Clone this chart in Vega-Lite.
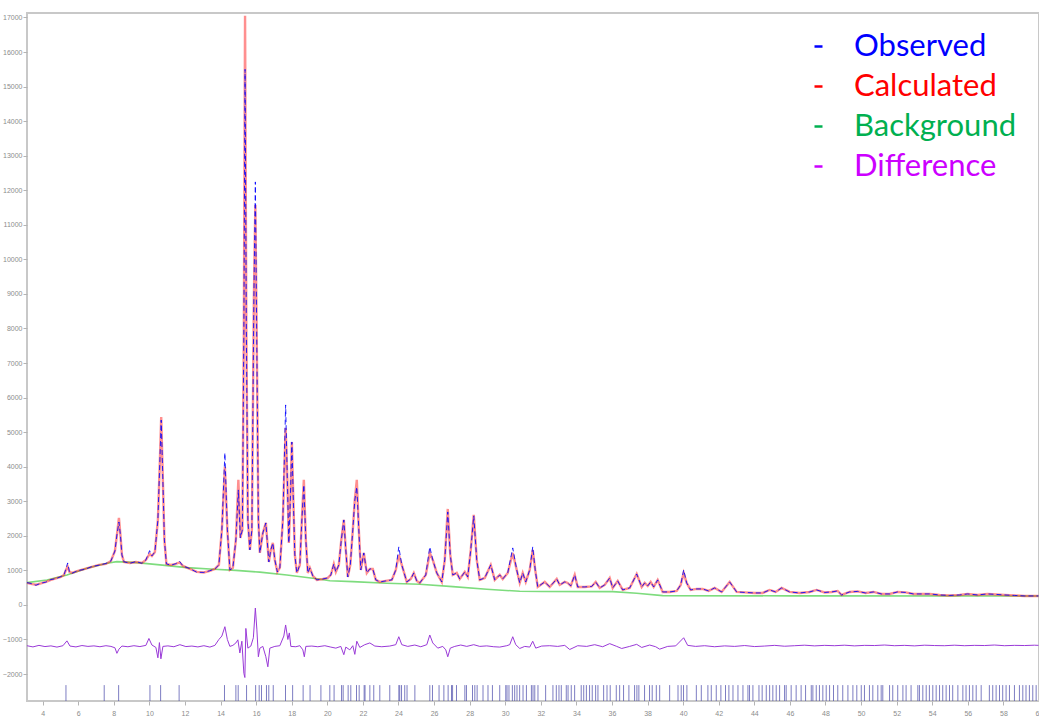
{
  "$schema": "https://vega.github.io/schema/vega-lite/v6.json",
  "width": 1012,
  "height": 688,
  "autosize": {"type": "none"},
  "padding": {"left": 27, "top": 13, "right": 0, "bottom": 18},
  "background": "white",
  "config": {
    "view": {"stroke": "#c8c8c8", "strokeWidth": 2},
    "axis": {"labelFont": "Liberation Sans", "labelFontSize": 7, "labelColor": "#8c8c8c", "tickColor": "#b4b4b4", "tickSize": 4, "domain": false, "grid": false, "title": null, "labelPadding": 1, "labelOverlap": false, "labelSeparation": 0}
  },
  "datasets": {
    "pattern": [
      {"x": 3.118, "obs": 645, "calc": 640},
      {"x": 3.343, "obs": 620, "calc": 608},
      {"x": 3.624, "obs": 570, "calc": 585},
      {"x": 3.904, "obs": 630, "calc": 622},
      {"x": 4.185, "obs": 660, "calc": 670},
      {"x": 4.466, "obs": 735, "calc": 724},
      {"x": 4.747, "obs": 760, "calc": 767},
      {"x": 5.028, "obs": 820, "calc": 810},
      {"x": 5.197, "obs": 868, "calc": 868},
      {"x": 5.309, "obs": 1042, "calc": 1010},
      {"x": 5.404, "obs": 1215, "calc": 1110},
      {"x": 5.506, "obs": 955, "calc": 960},
      {"x": 5.646, "obs": 915, "calc": 926},
      {"x": 5.983, "obs": 995, "calc": 984},
      {"x": 6.376, "obs": 1030, "calc": 1042},
      {"x": 6.770, "obs": 1110, "calc": 1100},
      {"x": 7.163, "obs": 1150, "calc": 1158},
      {"x": 7.556, "obs": 1200, "calc": 1187},
      {"x": 7.837, "obs": 1273, "calc": 1273},
      {"x": 8.062, "obs": 1563, "calc": 1563},
      {"x": 8.174, "obs": 2026, "calc": 2026},
      {"x": 8.287, "obs": 2400, "calc": 2518},
      {"x": 8.371, "obs": 2026, "calc": 2026},
      {"x": 8.455, "obs": 1447, "calc": 1447},
      {"x": 8.567, "obs": 1250, "calc": 1244},
      {"x": 8.904, "obs": 1205, "calc": 1215},
      {"x": 9.241, "obs": 1255, "calc": 1244},
      {"x": 9.578, "obs": 1205, "calc": 1215},
      {"x": 9.803, "obs": 1302, "calc": 1302},
      {"x": 10.011, "obs": 1571, "calc": 1480},
      {"x": 10.140, "obs": 1418, "calc": 1418},
      {"x": 10.309, "obs": 1534, "calc": 1534},
      {"x": 10.477, "obs": 2460, "calc": 2460},
      {"x": 10.590, "obs": 4196, "calc": 4196},
      {"x": 10.663, "obs": 5350, "calc": 5441},
      {"x": 10.742, "obs": 3907, "calc": 3907},
      {"x": 10.843, "obs": 1881, "calc": 1881},
      {"x": 10.955, "obs": 1187, "calc": 1187},
      {"x": 11.208, "obs": 1150, "calc": 1158},
      {"x": 11.489, "obs": 1195, "calc": 1187},
      {"x": 11.697, "obs": 1259, "calc": 1230},
      {"x": 11.882, "obs": 1129, "calc": 1129},
      {"x": 12.275, "obs": 1050, "calc": 1042},
      {"x": 12.668, "obs": 945, "calc": 955},
      {"x": 13.062, "obs": 941, "calc": 941},
      {"x": 13.399, "obs": 990, "calc": 984},
      {"x": 13.680, "obs": 1042, "calc": 1042},
      {"x": 13.905, "obs": 1158, "calc": 1158},
      {"x": 14.073, "obs": 2171, "calc": 2171},
      {"x": 14.242, "obs": 4399, "calc": 3994},
      {"x": 14.382, "obs": 2171, "calc": 2171},
      {"x": 14.523, "obs": 1013, "calc": 1013},
      {"x": 14.691, "obs": 1071, "calc": 1071},
      {"x": 14.860, "obs": 1881, "calc": 1881},
      {"x": 15.000, "obs": 3328, "calc": 3618},
      {"x": 15.113, "obs": 1939, "calc": 1939},
      {"x": 15.225, "obs": 2171, "calc": 2171},
      {"x": 15.309, "obs": 7959, "calc": 7959},
      {"x": 15.376, "obs": 15500, "calc": 17050},
      {"x": 15.449, "obs": 7959, "calc": 7959},
      {"x": 15.534, "obs": 2460, "calc": 2460},
      {"x": 15.646, "obs": 1592, "calc": 1592},
      {"x": 15.759, "obs": 2171, "calc": 2171},
      {"x": 15.871, "obs": 8827, "calc": 8827},
      {"x": 15.955, "obs": 12242, "calc": 11576},
      {"x": 16.039, "obs": 7380, "calc": 7380},
      {"x": 16.124, "obs": 2460, "calc": 2460},
      {"x": 16.208, "obs": 1505, "calc": 1505},
      {"x": 16.376, "obs": 2084, "calc": 2084},
      {"x": 16.545, "obs": 2373, "calc": 2373},
      {"x": 16.713, "obs": 1244, "calc": 1244},
      {"x": 16.825, "obs": 1592, "calc": 1592},
      {"x": 16.938, "obs": 1794, "calc": 1794},
      {"x": 17.051, "obs": 1302, "calc": 1302},
      {"x": 17.191, "obs": 955, "calc": 955},
      {"x": 17.331, "obs": 1071, "calc": 1071},
      {"x": 17.500, "obs": 2460, "calc": 2460},
      {"x": 17.657, "obs": 5788, "calc": 5122},
      {"x": 17.753, "obs": 3618, "calc": 3618},
      {"x": 17.837, "obs": 1794, "calc": 1794},
      {"x": 17.921, "obs": 3039, "calc": 3039},
      {"x": 18.006, "obs": 4717, "calc": 4717},
      {"x": 18.090, "obs": 3039, "calc": 3039},
      {"x": 18.174, "obs": 1447, "calc": 1447},
      {"x": 18.287, "obs": 926, "calc": 926},
      {"x": 18.455, "obs": 1158, "calc": 1158},
      {"x": 18.568, "obs": 2460, "calc": 2460},
      {"x": 18.680, "obs": 3473, "calc": 3618},
      {"x": 18.792, "obs": 1881, "calc": 1881},
      {"x": 18.904, "obs": 926, "calc": 926},
      {"x": 19.017, "obs": 1071, "calc": 1071},
      {"x": 19.186, "obs": 839, "calc": 839},
      {"x": 19.410, "obs": 724, "calc": 724},
      {"x": 19.747, "obs": 752, "calc": 752},
      {"x": 20.028, "obs": 781, "calc": 781},
      {"x": 20.197, "obs": 868, "calc": 868},
      {"x": 20.365, "obs": 1187, "calc": 1187},
      {"x": 20.478, "obs": 955, "calc": 955},
      {"x": 20.646, "obs": 1158, "calc": 1158},
      {"x": 20.786, "obs": 1881, "calc": 1881},
      {"x": 20.927, "obs": 2460, "calc": 2460},
      {"x": 21.039, "obs": 1592, "calc": 1592},
      {"x": 21.151, "obs": 810, "calc": 810},
      {"x": 21.292, "obs": 1158, "calc": 1158},
      {"x": 21.432, "obs": 2171, "calc": 2171},
      {"x": 21.545, "obs": 3039, "calc": 3039},
      {"x": 21.657, "obs": 3415, "calc": 3618},
      {"x": 21.770, "obs": 2171, "calc": 2171},
      {"x": 21.882, "obs": 1013, "calc": 1013},
      {"x": 22.050, "obs": 1505, "calc": 1505},
      {"x": 22.219, "obs": 926, "calc": 926},
      {"x": 22.388, "obs": 1042, "calc": 1042},
      {"x": 22.556, "obs": 1042, "calc": 1042},
      {"x": 22.725, "obs": 724, "calc": 724},
      {"x": 22.949, "obs": 666, "calc": 666},
      {"x": 23.286, "obs": 695, "calc": 695},
      {"x": 23.624, "obs": 724, "calc": 724},
      {"x": 23.848, "obs": 1013, "calc": 1013},
      {"x": 24.017, "obs": 1679, "calc": 1447},
      {"x": 24.185, "obs": 1158, "calc": 1158},
      {"x": 24.466, "obs": 666, "calc": 666},
      {"x": 24.691, "obs": 752, "calc": 752},
      {"x": 24.860, "obs": 926, "calc": 926},
      {"x": 25.028, "obs": 695, "calc": 695},
      {"x": 25.197, "obs": 637, "calc": 637},
      {"x": 25.534, "obs": 868, "calc": 868},
      {"x": 25.759, "obs": 1679, "calc": 1505},
      {"x": 25.927, "obs": 1302, "calc": 1302},
      {"x": 26.152, "obs": 926, "calc": 926},
      {"x": 26.433, "obs": 666, "calc": 666},
      {"x": 26.601, "obs": 1302, "calc": 1302},
      {"x": 26.770, "obs": 2691, "calc": 2778},
      {"x": 26.910, "obs": 1447, "calc": 1447},
      {"x": 27.051, "obs": 868, "calc": 868},
      {"x": 27.276, "obs": 926, "calc": 926},
      {"x": 27.444, "obs": 752, "calc": 752},
      {"x": 27.725, "obs": 955, "calc": 955},
      {"x": 27.893, "obs": 810, "calc": 810},
      {"x": 28.062, "obs": 1592, "calc": 1592},
      {"x": 28.230, "obs": 2576, "calc": 2605},
      {"x": 28.399, "obs": 1302, "calc": 1302},
      {"x": 28.567, "obs": 724, "calc": 724},
      {"x": 28.848, "obs": 781, "calc": 781},
      {"x": 29.185, "obs": 1158, "calc": 1158},
      {"x": 29.410, "obs": 724, "calc": 724},
      {"x": 29.691, "obs": 868, "calc": 868},
      {"x": 29.859, "obs": 752, "calc": 752},
      {"x": 30.140, "obs": 926, "calc": 926},
      {"x": 30.421, "obs": 1650, "calc": 1505},
      {"x": 30.646, "obs": 1013, "calc": 1013},
      {"x": 30.815, "obs": 637, "calc": 637},
      {"x": 30.983, "obs": 926, "calc": 926},
      {"x": 31.152, "obs": 666, "calc": 666},
      {"x": 31.376, "obs": 1013, "calc": 1013},
      {"x": 31.545, "obs": 1679, "calc": 1592},
      {"x": 31.685, "obs": 1013, "calc": 1013},
      {"x": 31.826, "obs": 521, "calc": 521},
      {"x": 32.219, "obs": 666, "calc": 666},
      {"x": 32.500, "obs": 521, "calc": 521},
      {"x": 32.893, "obs": 752, "calc": 752},
      {"x": 33.062, "obs": 579, "calc": 579},
      {"x": 33.343, "obs": 666, "calc": 666},
      {"x": 33.511, "obs": 637, "calc": 637},
      {"x": 33.680, "obs": 550, "calc": 550},
      {"x": 33.905, "obs": 868, "calc": 868},
      {"x": 34.073, "obs": 521, "calc": 521},
      {"x": 34.466, "obs": 521, "calc": 521},
      {"x": 34.859, "obs": 535, "calc": 535},
      {"x": 35.084, "obs": 666, "calc": 666},
      {"x": 35.309, "obs": 492, "calc": 492},
      {"x": 35.590, "obs": 579, "calc": 579},
      {"x": 35.871, "obs": 781, "calc": 781},
      {"x": 36.040, "obs": 492, "calc": 492},
      {"x": 36.320, "obs": 695, "calc": 695},
      {"x": 36.601, "obs": 434, "calc": 434},
      {"x": 36.994, "obs": 492, "calc": 492},
      {"x": 37.388, "obs": 897, "calc": 897},
      {"x": 37.670, "obs": 521, "calc": 521},
      {"x": 37.838, "obs": 637, "calc": 637},
      {"x": 38.007, "obs": 550, "calc": 550},
      {"x": 38.174, "obs": 666, "calc": 666},
      {"x": 38.343, "obs": 521, "calc": 521},
      {"x": 38.568, "obs": 724, "calc": 724},
      {"x": 38.849, "obs": 376, "calc": 376},
      {"x": 39.242, "obs": 376, "calc": 376},
      {"x": 39.636, "obs": 405, "calc": 405},
      {"x": 39.861, "obs": 579, "calc": 579},
      {"x": 40.029, "obs": 1013, "calc": 926},
      {"x": 40.197, "obs": 637, "calc": 637},
      {"x": 40.420, "obs": 434, "calc": 434},
      {"x": 40.758, "obs": 463, "calc": 463},
      {"x": 41.094, "obs": 463, "calc": 463},
      {"x": 41.432, "obs": 405, "calc": 405},
      {"x": 41.770, "obs": 492, "calc": 492},
      {"x": 42.163, "obs": 376, "calc": 376},
      {"x": 42.612, "obs": 666, "calc": 666},
      {"x": 43.006, "obs": 376, "calc": 376},
      {"x": 43.455, "obs": 362, "calc": 362},
      {"x": 44.017, "obs": 347, "calc": 347},
      {"x": 44.466, "obs": 347, "calc": 347},
      {"x": 44.860, "obs": 434, "calc": 434},
      {"x": 45.196, "obs": 376, "calc": 376},
      {"x": 45.534, "obs": 492, "calc": 492},
      {"x": 45.983, "obs": 376, "calc": 376},
      {"x": 46.545, "obs": 347, "calc": 347},
      {"x": 47.107, "obs": 376, "calc": 376},
      {"x": 47.500, "obs": 434, "calc": 434},
      {"x": 47.950, "obs": 362, "calc": 362},
      {"x": 48.343, "obs": 376, "calc": 376},
      {"x": 48.680, "obs": 405, "calc": 405},
      {"x": 48.905, "obs": 289, "calc": 289},
      {"x": 49.354, "obs": 376, "calc": 376},
      {"x": 49.806, "obs": 391, "calc": 391},
      {"x": 50.250, "obs": 347, "calc": 347},
      {"x": 50.700, "obs": 376, "calc": 376},
      {"x": 51.150, "obs": 318, "calc": 318},
      {"x": 51.600, "obs": 318, "calc": 318},
      {"x": 52.050, "obs": 376, "calc": 376},
      {"x": 52.500, "obs": 362, "calc": 362},
      {"x": 52.950, "obs": 318, "calc": 318},
      {"x": 53.398, "obs": 318, "calc": 318},
      {"x": 53.850, "obs": 318, "calc": 318},
      {"x": 54.410, "obs": 289, "calc": 289},
      {"x": 54.972, "obs": 275, "calc": 275},
      {"x": 55.534, "obs": 289, "calc": 289},
      {"x": 55.983, "obs": 318, "calc": 318},
      {"x": 56.545, "obs": 289, "calc": 289},
      {"x": 57.107, "obs": 318, "calc": 318},
      {"x": 57.613, "obs": 304, "calc": 304},
      {"x": 58.062, "obs": 289, "calc": 289},
      {"x": 58.624, "obs": 275, "calc": 275},
      {"x": 59.186, "obs": 260, "calc": 260},
      {"x": 59.747, "obs": 260, "calc": 260},
      {"x": 59.970, "obs": 260, "calc": 260}
    ],
    "background": [
      {"x": 3.118, "bg": 645},
      {"x": 4.241, "bg": 724},
      {"x": 5.365, "bg": 868},
      {"x": 6.489, "bg": 1062},
      {"x": 7.612, "bg": 1206},
      {"x": 8.174, "bg": 1254},
      {"x": 9.297, "bg": 1225},
      {"x": 10.590, "bg": 1158},
      {"x": 12.107, "bg": 1080},
      {"x": 13.624, "bg": 1032},
      {"x": 14.860, "bg": 1000},
      {"x": 16.207, "bg": 950},
      {"x": 17.724, "bg": 868},
      {"x": 19.410, "bg": 760},
      {"x": 20.140, "bg": 700},
      {"x": 21.432, "bg": 675},
      {"x": 23.342, "bg": 627},
      {"x": 25.197, "bg": 598},
      {"x": 27.051, "bg": 530},
      {"x": 28.960, "bg": 453},
      {"x": 30.815, "bg": 395},
      {"x": 32.050, "bg": 390},
      {"x": 36.040, "bg": 386},
      {"x": 37.388, "bg": 338},
      {"x": 38.849, "bg": 270},
      {"x": 46.000, "bg": 262},
      {"x": 59.970, "bg": 258}
    ],
    "difference": [
      {"x": 3.118, "diff": -1180}, {"x": 3.455, "diff": -1215}, {"x": 3.792, "diff": -1170}, {"x": 4.129, "diff": -1205},
      {"x": 4.466, "diff": -1185}, {"x": 4.803, "diff": -1220}, {"x": 5.140, "diff": -1180}, {"x": 5.365, "diff": -1040},
      {"x": 5.534, "diff": -1190}, {"x": 5.871, "diff": -1215}, {"x": 6.208, "diff": -1175}, {"x": 6.545, "diff": -1200},
      {"x": 6.882, "diff": -1185}, {"x": 7.219, "diff": -1210}, {"x": 7.556, "diff": -1180}, {"x": 7.837, "diff": -1200},
      {"x": 8.062, "diff": -1240}, {"x": 8.174, "diff": -1400}, {"x": 8.287, "diff": -1280}, {"x": 8.455, "diff": -1190},
      {"x": 8.792, "diff": -1210}, {"x": 9.129, "diff": -1180}, {"x": 9.466, "diff": -1205}, {"x": 9.803, "diff": -1170},
      {"x": 9.972, "diff": -970}, {"x": 10.140, "diff": -1160}, {"x": 10.365, "diff": -1230}, {"x": 10.477, "diff": -1530},
      {"x": 10.562, "diff": -1090}, {"x": 10.646, "diff": -1560}, {"x": 10.759, "diff": -1200}, {"x": 11.039, "diff": -1185},
      {"x": 11.376, "diff": -1210}, {"x": 11.713, "diff": -1150}, {"x": 12.050, "diff": -1205}, {"x": 12.388, "diff": -1190},
      {"x": 12.725, "diff": -1215}, {"x": 13.062, "diff": -1180}, {"x": 13.399, "diff": -1220}, {"x": 13.680, "diff": -1170},
      {"x": 13.905, "diff": -1000}, {"x": 14.073, "diff": -900}, {"x": 14.242, "diff": -630}, {"x": 14.382, "diff": -1000},
      {"x": 14.523, "diff": -1200}, {"x": 14.691, "diff": -1170}, {"x": 14.860, "diff": -1100}, {"x": 14.972, "diff": -1010},
      {"x": 15.084, "diff": -1390}, {"x": 15.197, "diff": -1050}, {"x": 15.309, "diff": -1980}, {"x": 15.365, "diff": -2100},
      {"x": 15.421, "diff": -680}, {"x": 15.534, "diff": -1250}, {"x": 15.702, "diff": -1190}, {"x": 15.843, "diff": -950},
      {"x": 15.955, "diff": -90}, {"x": 16.039, "diff": -700}, {"x": 16.124, "diff": -1500}, {"x": 16.208, "diff": -1250},
      {"x": 16.376, "diff": -1200}, {"x": 16.545, "diff": -1500}, {"x": 16.657, "diff": -1790}, {"x": 16.769, "diff": -1250},
      {"x": 17.051, "diff": -1200}, {"x": 17.331, "diff": -1180}, {"x": 17.556, "diff": -900}, {"x": 17.657, "diff": -580},
      {"x": 17.781, "diff": -1000}, {"x": 17.865, "diff": -810}, {"x": 17.949, "diff": -1200}, {"x": 18.230, "diff": -1210},
      {"x": 18.455, "diff": -1180}, {"x": 18.624, "diff": -1300}, {"x": 18.708, "diff": -1500}, {"x": 18.792, "diff": -1200},
      {"x": 19.129, "diff": -1190}, {"x": 19.466, "diff": -1210}, {"x": 19.860, "diff": -1180}, {"x": 20.197, "diff": -1220},
      {"x": 20.478, "diff": -1250}, {"x": 20.758, "diff": -1200}, {"x": 20.927, "diff": -1440}, {"x": 21.039, "diff": -1220},
      {"x": 21.264, "diff": -1300}, {"x": 21.432, "diff": -1180}, {"x": 21.545, "diff": -1430}, {"x": 21.657, "diff": -1050},
      {"x": 21.826, "diff": -1230}, {"x": 22.106, "diff": -1150}, {"x": 22.388, "diff": -1100}, {"x": 22.669, "diff": -1190},
      {"x": 23.062, "diff": -1210}, {"x": 23.511, "diff": -1190}, {"x": 23.848, "diff": -1150}, {"x": 24.017, "diff": -920},
      {"x": 24.185, "diff": -1150}, {"x": 24.522, "diff": -1200}, {"x": 24.916, "diff": -1160}, {"x": 25.253, "diff": -1210},
      {"x": 25.590, "diff": -1150}, {"x": 25.759, "diff": -870}, {"x": 25.927, "diff": -1100}, {"x": 26.208, "diff": -1250},
      {"x": 26.489, "diff": -1200}, {"x": 26.657, "diff": -1300}, {"x": 26.770, "diff": -1500}, {"x": 26.910, "diff": -1250},
      {"x": 27.163, "diff": -1200}, {"x": 27.500, "diff": -1160}, {"x": 27.837, "diff": -1200}, {"x": 28.230, "diff": -1150},
      {"x": 28.567, "diff": -1200}, {"x": 28.960, "diff": -1185}, {"x": 29.354, "diff": -1210}, {"x": 29.691, "diff": -1220},
      {"x": 30.084, "diff": -1180}, {"x": 30.253, "diff": -1150}, {"x": 30.421, "diff": -920}, {"x": 30.590, "diff": -1150},
      {"x": 30.815, "diff": -1260}, {"x": 31.095, "diff": -1200}, {"x": 31.376, "diff": -1220}, {"x": 31.545, "diff": -1050},
      {"x": 31.713, "diff": -1250}, {"x": 32.050, "diff": -1190}, {"x": 32.500, "diff": -1180}, {"x": 32.949, "diff": -1200},
      {"x": 33.343, "diff": -1170}, {"x": 33.624, "diff": -1290}, {"x": 34.073, "diff": -1180}, {"x": 34.579, "diff": -1200},
      {"x": 35.028, "diff": -1150}, {"x": 35.477, "diff": -1210}, {"x": 35.871, "diff": -1120}, {"x": 36.265, "diff": -1200},
      {"x": 36.545, "diff": -1260}, {"x": 36.994, "diff": -1200}, {"x": 37.388, "diff": -1140}, {"x": 37.670, "diff": -1230},
      {"x": 38.118, "diff": -1160}, {"x": 38.455, "diff": -1210}, {"x": 38.680, "diff": -1280}, {"x": 39.130, "diff": -1200},
      {"x": 39.580, "diff": -1185}, {"x": 40.029, "diff": -950}, {"x": 40.254, "diff": -1170}, {"x": 40.702, "diff": -1200},
      {"x": 41.207, "diff": -1180}, {"x": 41.770, "diff": -1210}, {"x": 42.332, "diff": -1185}, {"x": 42.894, "diff": -1200},
      {"x": 43.455, "diff": -1175}, {"x": 44.017, "diff": -1205}, {"x": 44.579, "diff": -1190}, {"x": 45.141, "diff": -1170},
      {"x": 45.703, "diff": -1195}, {"x": 46.264, "diff": -1180}, {"x": 46.826, "diff": -1165}, {"x": 47.388, "diff": -1185},
      {"x": 47.950, "diff": -1170}, {"x": 48.512, "diff": -1180}, {"x": 49.073, "diff": -1165}, {"x": 49.635, "diff": -1185},
      {"x": 50.197, "diff": -1170}, {"x": 50.759, "diff": -1175}, {"x": 51.320, "diff": -1160}, {"x": 51.882, "diff": -1180},
      {"x": 52.444, "diff": -1170}, {"x": 53.006, "diff": -1185}, {"x": 53.568, "diff": -1165}, {"x": 54.129, "diff": -1175},
      {"x": 54.691, "diff": -1180}, {"x": 55.253, "diff": -1165}, {"x": 55.815, "diff": -1180}, {"x": 56.376, "diff": -1170},
      {"x": 56.938, "diff": -1175}, {"x": 57.500, "diff": -1160}, {"x": 58.062, "diff": -1180}, {"x": 58.624, "diff": -1170},
      {"x": 59.186, "diff": -1175}, {"x": 59.747, "diff": -1165}, {"x": 59.970, "diff": -1170}
    ],
    "reflections": [
      {"x": 5.31}, {"x": 7.46}, {"x": 8.27}, {"x": 10.03}, {"x": 10.63}, {"x": 11.67}, {"x": 14.22}, {"x": 14.86},
      {"x": 14.99}, {"x": 15.46}, {"x": 15.97}, {"x": 16.17}, {"x": 16.30}, {"x": 16.58}, {"x": 16.71}, {"x": 16.96},
      {"x": 17.65}, {"x": 18.05}, {"x": 18.64}, {"x": 19.03}, {"x": 19.64}, {"x": 20.14}, {"x": 20.38}, {"x": 20.80},
      {"x": 20.89}, {"x": 21.17}, {"x": 21.32}, {"x": 21.64}, {"x": 21.79}, {"x": 22.07}, {"x": 22.12}, {"x": 22.39},
      {"x": 22.61}, {"x": 22.95}, {"x": 23.51}, {"x": 24.02}, {"x": 24.07}, {"x": 24.17}, {"x": 24.35}, {"x": 24.48},
      {"x": 24.92}, {"x": 25.76}, {"x": 25.91}, {"x": 26.28}, {"x": 26.55}, {"x": 26.79}, {"x": 26.98}, {"x": 27.04},
      {"x": 27.26}, {"x": 27.73}, {"x": 27.82}, {"x": 28.16}, {"x": 28.29}, {"x": 28.42}, {"x": 28.75}, {"x": 29.03},
      {"x": 29.28}, {"x": 29.69}, {"x": 30.03}, {"x": 30.10}, {"x": 30.21}, {"x": 30.40}, {"x": 30.53}, {"x": 30.66},
      {"x": 30.81}, {"x": 31.00}, {"x": 31.19}, {"x": 31.47}, {"x": 31.56}, {"x": 31.66}, {"x": 31.84},
      {"x": 32.27}, {"x": 32.68}, {"x": 32.87}, {"x": 33.02}, {"x": 33.15}, {"x": 33.43}, {"x": 33.53}, {"x": 33.71},
      {"x": 33.90}, {"x": 34.27}, {"x": 34.41}, {"x": 34.56}, {"x": 34.74}, {"x": 34.89}, {"x": 35.08}, {"x": 35.21},
      {"x": 35.53}, {"x": 35.72}, {"x": 35.90}, {"x": 36.24}, {"x": 36.43}, {"x": 36.65}, {"x": 36.95}, {"x": 37.27},
      {"x": 37.40}, {"x": 37.51}, {"x": 37.83}, {"x": 38.11}, {"x": 38.26}, {"x": 38.49}, {"x": 38.68}, {"x": 39.24},
      {"x": 39.71}, {"x": 39.89}, {"x": 40.02}, {"x": 40.21}, {"x": 40.74}, {"x": 41.02}, {"x": 41.39}, {"x": 41.58},
      {"x": 41.86}, {"x": 42.12}, {"x": 42.38}, {"x": 42.57}, {"x": 42.80}, {"x": 43.08}, {"x": 43.36}, {"x": 43.64},
      {"x": 43.73}, {"x": 43.92}, {"x": 44.26}, {"x": 44.44}, {"x": 44.67}, {"x": 44.86}, {"x": 45.04}, {"x": 45.23},
      {"x": 45.42}, {"x": 45.70}, {"x": 45.79}, {"x": 46.07}, {"x": 46.35}, {"x": 46.63}, {"x": 46.88}, {"x": 47.20},
      {"x": 47.29}, {"x": 47.48}, {"x": 47.66}, {"x": 47.85}, {"x": 48.04}, {"x": 48.23}, {"x": 48.45}, {"x": 48.69},
      {"x": 48.97}, {"x": 49.26}, {"x": 49.54}, {"x": 49.76}, {"x": 50.01}, {"x": 50.19}, {"x": 50.47}, {"x": 50.66},
      {"x": 50.94}, {"x": 51.13}, {"x": 51.22}, {"x": 51.60}, {"x": 51.78}, {"x": 52.06}, {"x": 52.35}, {"x": 52.53},
      {"x": 52.81}, {"x": 53.19}, {"x": 53.28}, {"x": 53.47}, {"x": 53.66}, {"x": 53.84}, {"x": 54.03}, {"x": 54.22},
      {"x": 54.41}, {"x": 54.59}, {"x": 54.78}, {"x": 54.97}, {"x": 55.15}, {"x": 55.44}, {"x": 55.72}, {"x": 55.90},
      {"x": 56.09}, {"x": 56.28}, {"x": 56.47}, {"x": 56.75}, {"x": 57.21}, {"x": 57.40}, {"x": 57.59}, {"x": 57.78},
      {"x": 57.96}, {"x": 58.15}, {"x": 58.34}, {"x": 58.62}, {"x": 58.90}, {"x": 59.09}, {"x": 59.27}, {"x": 59.46},
      {"x": 59.65}, {"x": 59.84}
    ]
  },
  "encoding": {
    "x": {"field": "x", "type": "quantitative", "scale": {"domain": [3.12, 60], "nice": false, "zero": false},
          "axis": {"values": [4, 6, 8, 10, 12, 14, 16, 18, 20, 22, 24, 26, 28, 30, 32, 34, 36, 38, 40, 42, 44, 46, 48, 50, 52, 54, 56, 58, 60], "labelPadding": 4, "labelOverlap": false, "labelSeparation": 0, "labelFlush": false, "labelBound": false}}
  },
  "layer": [
    {
      "data": {"name": "background"},
      "mark": {"type": "line", "color": "#7edc7e", "strokeWidth": 1.6},
      "encoding": {
        "y": {"field": "bg", "type": "quantitative", "scale": {"domain": [-2780, 17130], "nice": false, "zero": false},
              "axis": {"values": [-2000, -1000, 0, 1000, 2000, 3000, 4000, 5000, 6000, 7000, 8000, 9000, 10000, 11000, 12000, 13000, 14000, 15000, 16000, 17000], "format": "d", "labelOverlap": false, "labelSeparation": 0, "labelFlush": false, "labelBound": false}}
      }
    },
    {
      "data": {"name": "pattern"},
      "mark": {"type": "line", "color": "#ff2020", "strokeWidth": 2.4, "opacity": 0.5},
      "encoding": {
        "y": {"field": "calc", "type": "quantitative", "scale": {"domain": [-2780, 17130], "nice": false, "zero": false},
              "axis": {"values": [-2000, -1000, 0, 1000, 2000, 3000, 4000, 5000, 6000, 7000, 8000, 9000, 10000, 11000, 12000, 13000, 14000, 15000, 16000, 17000], "format": "d", "labelOverlap": false, "labelSeparation": 0, "labelFlush": false, "labelBound": false}}
      }
    },
    {
      "data": {"name": "pattern"},
      "mark": {"type": "line", "strokeWidth": 1, "opacity": 0.85, "strokeDash": [5, 3]},
      "encoding": {
        "y": {"field": "obs", "type": "quantitative", "scale": {"domain": [-2780, 17130], "nice": false, "zero": false},
              "axis": {"values": [-2000, -1000, 0, 1000, 2000, 3000, 4000, 5000, 6000, 7000, 8000, 9000, 10000, 11000, 12000, 13000, 14000, 15000, 16000, 17000], "format": "d", "labelOverlap": false, "labelSeparation": 0, "labelFlush": false, "labelBound": false}},
        "color": {
          "datum": "Observed",
          "scale": {"domain": ["Observed", "Calculated", "Background", "Difference"], "range": ["#0000ff", "#ff0000", "#00b050", "#cc00ff"]},
          "legend": {
            "title": null, "orient": "none", "legendX": 776, "legendY": 18, "padding": 0,
            "labelFont": "Lato", "labelFontSize": 31, "labelOffset": 20, "rowPadding": 8, "labelLimit": 0,
            "symbolType": "M-1,0L1,0", "symbolSize": 64, "symbolStrokeWidth": 2.5, "symbolOpacity": 1, "symbolDash": [],
            "encode": {"labels": {"update": {"fill": {"scale": "color", "field": "value"}}}}
          }
        }
      }
    },
    {
      "data": {"name": "difference"},
      "mark": {"type": "line", "color": "#9a3ad8", "strokeWidth": 1},
      "encoding": {
        "y": {"field": "diff", "type": "quantitative", "scale": {"domain": [-2780, 17130], "nice": false, "zero": false},
              "axis": {"values": [-2000, -1000, 0, 1000, 2000, 3000, 4000, 5000, 6000, 7000, 8000, 9000, 10000, 11000, 12000, 13000, 14000, 15000, 16000, 17000], "format": "d", "labelOverlap": false, "labelSeparation": 0, "labelFlush": false, "labelBound": false}}
      }
    },
    {
      "data": {"name": "reflections"},
      "mark": {"type": "rule", "color": "#4646a8", "strokeWidth": 1, "opacity": 0.7},
      "encoding": {
        "y": {"datum": -2320, "type": "quantitative", "scale": {"domain": [-2780, 17130], "nice": false, "zero": false},
              "axis": {"values": [-2000, -1000, 0, 1000, 2000, 3000, 4000, 5000, 6000, 7000, 8000, 9000, 10000, 11000, 12000, 13000, 14000, 15000, 16000, 17000], "format": "d", "labelOverlap": false, "labelSeparation": 0, "labelFlush": false, "labelBound": false}},
        "y2": {"datum": -2780}
      }
    }
  ]
}
